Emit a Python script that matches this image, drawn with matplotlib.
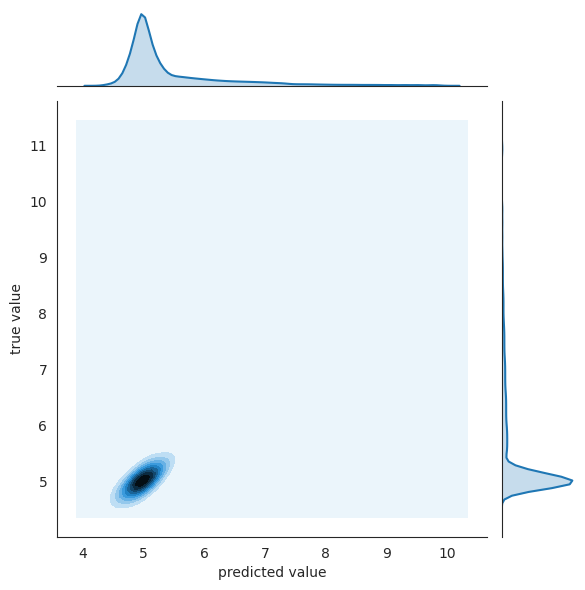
import colorsys
import numpy as np
import matplotlib
matplotlib.use("Agg")
import matplotlib.pyplot as plt
from matplotlib.colors import LinearSegmentedColormap, to_rgb
import seaborn as sns

# ---------------- data (weighted samples) ----------------
# dense core around (5, 5)
pred_core = [4.97, 4.82, 5.12, 4.93, 5.03, 4.72, 5.22, 5.00, 4.62, 5.30, 4.45]
true_core = [4.99, 4.93, 5.06, 5.09, 4.91, 4.89, 5.15, 5.20, 4.86, 5.24, 4.88]
count_core = [100, 60, 60, 40, 40, 20, 30, 20, 10, 16, 4]

# sparse upper tail (each entry = 4 samples)
pred_tail4 = [5.315, 5.346, 5.377, 5.408, 5.438, 5.469, 5.50, 5.533, 5.567, 5.60,
              5.633, 5.667, 5.70, 5.74, 5.78, 5.82, 5.86, 5.90, 5.947, 5.994,
              6.041, 6.088, 6.143, 6.20, 6.257, 6.317, 6.383, 6.45, 6.518, 6.591,
              6.664, 6.74, 6.82, 6.90, 6.989, 7.078, 7.186, 7.30]
true_tail4 = [7.875, 7.75, 7.65, 7.55, 7.45, 7.35, 7.25, 7.163, 7.088, 7.013,
              6.938, 6.863, 6.788, 6.713, 6.638, 6.571, 6.512, 6.454, 6.395, 6.337,
              6.278, 6.22, 6.161, 6.102, 6.044, 5.988, 5.941, 5.894, 5.847, 5.80,
              5.753, 5.706, 5.659, 5.612, 5.565, 5.518, 5.471, 5.424]
# far tail (each entry = 2 samples)
pred_tail2 = [7.40, 7.50, 7.60, 7.70, 7.80, 7.92, 8.05, 8.20,
              8.36, 8.52, 8.70, 8.88, 9.08, 9.30, 9.52, 9.78]
true_tail2 = [10.95, 9.875, 9.625, 9.375, 9.125, 8.94, 8.82, 8.70,
              8.58, 8.46, 8.36, 8.29, 8.21, 8.14, 8.06, 7.99]

x_label = "predicted value"
y_label = "true value"

# ---------------- KDE helpers ----------------
x = np.array(pred_core + pred_tail4 + pred_tail2, dtype=float)
y = np.array(true_core + true_tail4 + true_tail2, dtype=float)
w = np.array(count_core + [4] * len(pred_tail4) + [2] * len(pred_tail2), dtype=float)

bw_x1, bw_y1 = 0.095, 0.10              # univariate bandwidths
k_sx, k_sy, k_r = 0.185, 0.21, 0.72     # bivariate kernel
pad2_x, pad2_y = 0.55, 0.50
pad1_x, pad1_y = 0.42, 0.32
gridsize = 100


def kde1d(grid, pts, wts, bw):
    d = (grid[:, None] - pts[None, :]) / bw
    return (np.exp(-0.5 * d ** 2) * wts).sum(1) / (wts.sum() * bw * np.sqrt(2 * np.pi))


def kde2d(xx, yy, px, py, wts):
    cov = np.array([[k_sx ** 2, k_r * k_sx * k_sy], [k_r * k_sx * k_sy, k_sy ** 2]])
    inv = np.linalg.inv(cov)
    dx = xx[..., None] - px
    dy = yy[..., None] - py
    q = inv[0, 0] * dx ** 2 + 2 * inv[0, 1] * dx * dy + inv[1, 1] * dy ** 2
    norm = 2 * np.pi * np.sqrt(np.linalg.det(cov)) * wts.sum()
    return (np.exp(-0.5 * q) * wts).sum(-1) / norm


color = "#1f77b4"
r_, g_, b_ = to_rgb(color)
h_, l_, s_ = colorsys.rgb_to_hls(r_, g_, b_)
cmap = LinearSegmentedColormap.from_list(
    "joint", [colorsys.hls_to_rgb(h_, li, s_) for li in np.linspace(1, 0, 12)])

# ---------------- figure ----------------
sns.set_style("white")
plt.rcParams["font.family"] = ["DejaVu Sans"]
W, H = 585, 590
fig = plt.figure(figsize=(W / 100, H / 100), dpi=100)
ax = fig.add_axes([57 / W, 1 - 537 / H, 430 / W, 436 / H])
ax_mx = fig.add_axes([57 / W, 1 - 85.8 / H, 430 / W, 75.2 / H], sharex=ax)
ax_my = fig.add_axes([501.8 / W, 1 - 537 / H, 74.1 / W, 436 / H], sharey=ax)

gx = np.linspace(x.min() - pad2_x, x.max() + pad2_x, gridsize)
gy = np.linspace(y.min() - pad2_y, y.max() + pad2_y, gridsize)
XX, YY = np.meshgrid(gx, gy)
ZZ = kde2d(XX, YY, x, y, w)
levels = np.linspace(0, ZZ.max(), 11)
ax.contourf(XX, YY, ZZ, levels, cmap=cmap)

ux = np.linspace(x.min() - pad1_x, x.max() + pad1_x, gridsize)
dx_ = kde1d(ux, x, w, bw_x1)
ax_mx.fill_between(ux, 0, dx_, color=color, alpha=0.25, lw=0)
ax_mx.plot(ux, dx_, color=color, lw=1.5)
ax_mx.set_ylim(0, dx_.max() * 1.05)

uy = np.linspace(y.min() - pad1_y, y.max() + pad1_y, gridsize)
dy_ = kde1d(uy, y, w, bw_y1)
ax_my.fill_betweenx(uy, 0, dy_, color=color, alpha=0.25, lw=0)
ax_my.plot(dy_, uy, color=color, lw=1.5)
ax_my.set_xlim(0, dy_.max() * 1.05)

mx = 0.05 * (gx[-1] - gx[0])
my = 0.05 * (gy[-1] - gy[0])
ax.set_xlim(gx[0] - mx, gx[-1] + mx)
ax.set_ylim(gy[0] - my, gy[-1] + my)

ax.set_xlabel(x_label)
ax.set_ylabel(y_label)
sns.despine(ax=ax)
sns.despine(ax=ax_mx, left=True)
sns.despine(ax=ax_my, bottom=True)
ax_mx.tick_params(labelbottom=False, labelleft=False, length=0)
ax_my.tick_params(labelbottom=False, labelleft=False, length=0)
ax.tick_params(length=0, pad=7)

fig.savefig("out.png", dpi=100)
